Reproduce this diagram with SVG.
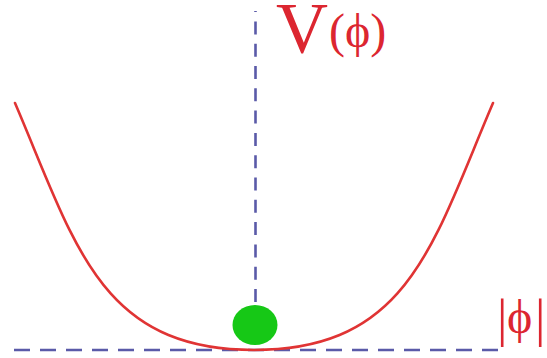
<svg xmlns="http://www.w3.org/2000/svg" width="547" height="358" viewBox="0 0 547 358">
<style>
.axis{fill:none;stroke:#5a5aa8;stroke-width:2.6}
.curve{fill:none;stroke:#e03434;stroke-width:2.6;stroke-linecap:round}
text{font-family:'Liberation Serif','Times New Roman',serif;fill:#dc2630}
</style>
<rect width="547" height="358" fill="#ffffff"/>
<g id="axes">
<line class="axis" x1="14" y1="350" x2="498" y2="350" stroke-dasharray="16 10"/>
<line class="axis" x1="255.5" y1="302" x2="255.5" y2="11" stroke-dasharray="13 9.3"/>
</g>
<g id="potential">
<path class="curve" d="M15,103 C75,243 99,350 254,350 C409,350 433,243 493,103"/>
</g>
<g id="ball">
<ellipse cx="255" cy="325" rx="22.5" ry="20" fill="#16c816"/>
</g>
<g id="label-V">
<text x="276" y="52" font-size="72" font-family="Liberation Serif, serif">V</text>
<text x="329" y="47" font-size="48" font-family="Liberation Serif, serif">(ϕ)</text>
</g>
<g id="label-phi">
<text x="497" y="336" font-size="52" font-family="Liberation Serif, serif">|</text>
<text x="507" y="333" font-size="48" font-family="Liberation Serif, serif">ϕ</text>
<text x="535" y="336" font-size="52" font-family="Liberation Serif, serif">|</text>
</g>
</svg>
